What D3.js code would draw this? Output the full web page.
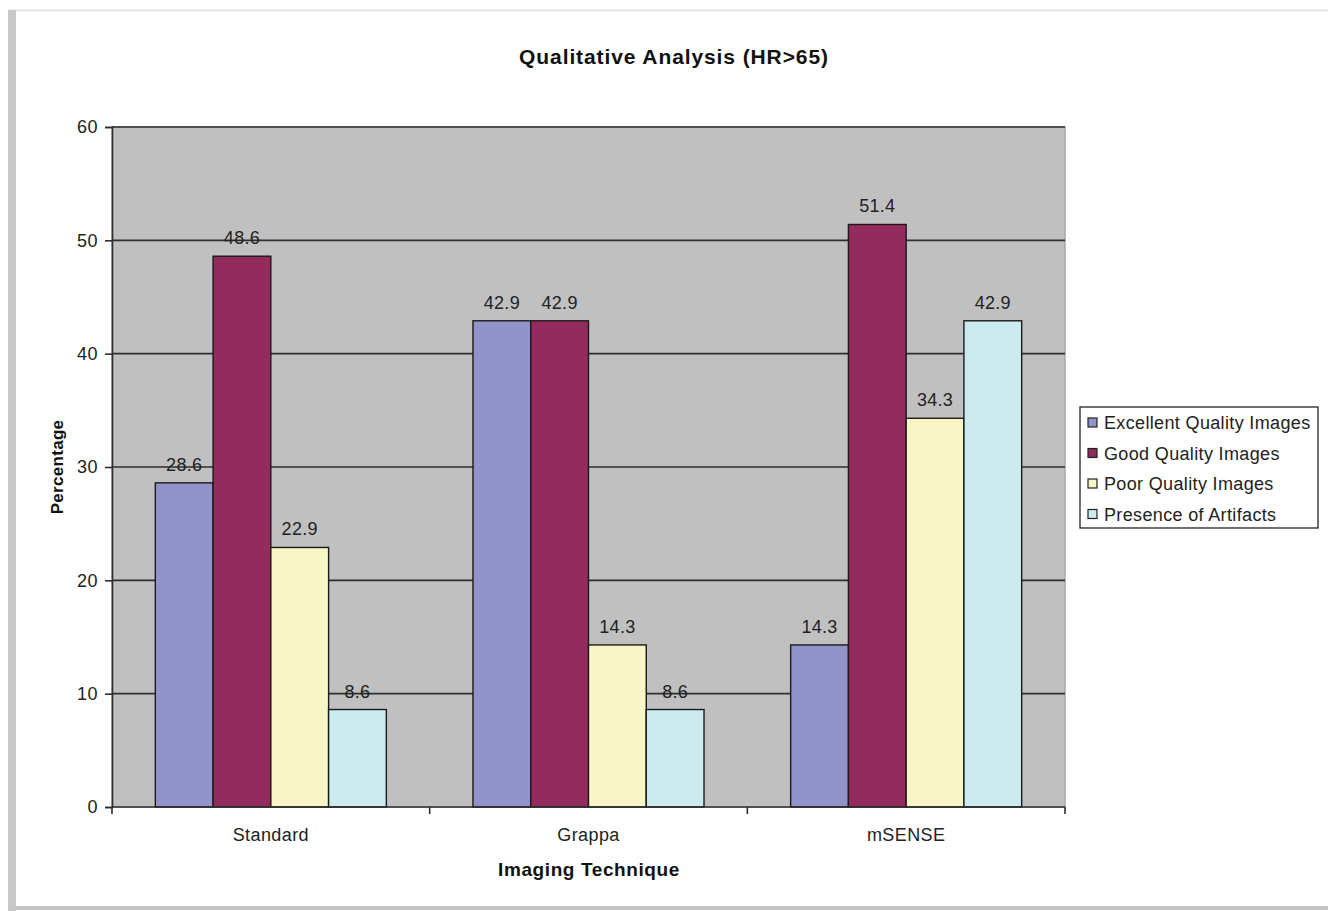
<!DOCTYPE html>
<html>
<head>
<meta charset="utf-8">
<script src="https://cdn.jsdelivr.net/npm/d3@7"></script>
<style>
  html, body { margin: 0; padding: 0; background: #fff; }
  svg { display: block; font-family: Arial, "Liberation Sans", sans-serif; }
</style>
</head>
<body>
<svg id="chart" width="1328" height="911"></svg>
<script>
// Imaging techniques along the x axis
const categories = ["Standard", "Grappa", "mSENSE"];
// One series per image-quality rating (percent)
const seriesNames = ["Excellent Quality Images", "Good Quality Images", "Poor Quality Images", "Presence of Artifacts"];
const excellent = [28.6, 42.9, 14.3];
const good = [48.6, 42.9, 51.4];
const poor = [22.9, 14.3, 34.3];
const artifacts = [8.6, 8.6, 42.9];
const yTicks = [0, 10, 20, 30, 40, 50, 60];
const seriesColors = ["#9393cc", "#932b5d", "#f8f6c6", "#cbebef"];

const seriesValues = [excellent, good, poor, artifacts];
const svg = d3.select("#chart");
const FONT = "Arial, 'Liberation Sans', sans-serif";

// Outer frame
svg.append("rect").attr("x", 0).attr("y", 0).attr("width", 1328).attr("height", 911).attr("fill", "#fff");
svg.append("line").attr("x1", 8).attr("x2", 1328).attr("y1", 10.5).attr("y2", 10.5).attr("stroke", "#e2e2e2").attr("stroke-width", 2);
svg.append("rect").attr("x", 8).attr("y", 10).attr("width", 8).attr("height", 901).attr("fill", "#c9c9c9");
svg.append("line").attr("x1", 8).attr("x2", 1328).attr("y1", 908).attr("y2", 908).attr("stroke", "#c4c4c4").attr("stroke-width", 4);

const plot = { left: 112, top: 127, right: 1065, bottom: 807 };

const x0 = d3.scaleBand().domain(categories).range([plot.left, plot.right]).paddingInner(0).paddingOuter(0);
const innerPad = 1.5 / 5.5 / 2; // gap between groups is 1.5 bar widths
const x1 = d3.scaleBand().domain(d3.range(seriesNames.length))
  .range([x0.bandwidth() * innerPad, x0.bandwidth() * (1 - innerPad)]);
const y = d3.scaleLinear().domain([0, 60]).range([plot.bottom, plot.top]);

// Plot area background
svg.append("rect")
  .attr("x", plot.left).attr("y", plot.top)
  .attr("width", plot.right - plot.left).attr("height", plot.bottom - plot.top)
  .attr("fill", "#c0c0c0").attr("stroke", "#a9a9a9").attr("stroke-width", 1.5);

// Horizontal gridlines
svg.append("g").selectAll("line").data(yTicks.filter(d => d > 0)).join("line")
  .attr("x1", plot.left).attr("x2", plot.right)
  .attr("y1", d => y(d)).attr("y2", d => y(d))
  .attr("stroke", "#2e2e2e").attr("stroke-width", 1.6);

// Bars
const groups = svg.append("g").selectAll("g").data(categories).join("g")
  .attr("transform", c => `translate(${x0(c)},0)`);

groups.selectAll("rect").data((c, ci) => seriesValues.map((vals, si) => ({ si, v: vals[ci] }))).join("rect")
  .attr("x", d => x1(d.si)).attr("width", x1.bandwidth())
  .attr("y", d => y(d.v)).attr("height", d => y(0) - y(d.v))
  .attr("fill", d => seriesColors[d.si])
  .attr("stroke", "#1a1a1a").attr("stroke-width", 1.4);

// Value labels
groups.selectAll("text").data((c, ci) => seriesValues.map((vals, si) => ({ si, v: vals[ci] }))).join("text")
  .attr("x", d => x1(d.si) + x1.bandwidth() / 2)
  .attr("y", d => y(d.v) - 12)
  .attr("text-anchor", "middle")
  .attr("font-size", 18).attr("letter-spacing", 0.3).attr("fill", "#222")
  .text(d => d.v.toFixed(1));

// Y axis
const yAxis = d3.axisLeft(y).tickValues(yTicks).tickSize(7).tickPadding(7);
const gy = svg.append("g").attr("transform", `translate(${plot.left},0)`).call(yAxis);
gy.select(".domain").attr("stroke", "#2e2e2e").attr("stroke-width", 1.6);
gy.selectAll(".tick line").attr("stroke", "#2e2e2e").attr("stroke-width", 1.6);
gy.selectAll(".tick text").attr("font-size", 18).attr("letter-spacing", 0.5).attr("fill", "#222").attr("font-family", FONT);

// X axis with ticks on group boundaries
const gx = svg.append("g").attr("transform", `translate(0,${plot.bottom})`);
gx.append("line").attr("x1", plot.left).attr("x2", plot.right).attr("y1", 0).attr("y2", 0)
  .attr("stroke", "#2e2e2e").attr("stroke-width", 1.6);
const boundaries = categories.map(c => x0(c)).concat([plot.right]);
gx.selectAll(".bt").data(boundaries).join("line").attr("class", "bt")
  .attr("x1", d => d).attr("x2", d => d).attr("y1", 0).attr("y2", 7)
  .attr("stroke", "#2e2e2e").attr("stroke-width", 1.6);
gx.selectAll(".cl").data(categories).join("text").attr("class", "cl")
  .attr("x", c => x0(c) + x0.bandwidth() / 2).attr("y", 34)
  .attr("text-anchor", "middle").attr("font-size", 18).attr("letter-spacing", 0.4).attr("fill", "#222")
  .text(c => c);

// Titles
svg.append("text").attr("x", 674).attr("y", 64).attr("text-anchor", "middle")
  .attr("font-size", 21).attr("letter-spacing", 0.9).attr("font-weight", "bold").attr("fill", "#111")
  .text("Qualitative Analysis (HR>65)");
svg.append("text").attr("x", 589).attr("y", 876).attr("text-anchor", "middle")
  .attr("font-size", 19).attr("letter-spacing", 0.6).attr("font-weight", "bold").attr("fill", "#111")
  .text("Imaging Technique");
svg.append("text").attr("transform", "translate(63,467) rotate(-90)").attr("text-anchor", "middle")
  .attr("font-size", 17).attr("letter-spacing", 0.3).attr("font-weight", "bold").attr("fill", "#111")
  .text("Percentage");

// Legend
const legend = svg.append("g").attr("transform", "translate(1080,407)");
legend.append("rect").attr("x", 0).attr("y", 0).attr("width", 238).attr("height", 121)
  .attr("fill", "#fff").attr("stroke", "#333").attr("stroke-width", 1.4);
const items = legend.selectAll("g").data(seriesNames).join("g")
  .attr("transform", (d, i) => `translate(0,${16 + i * 30.5})`);
items.append("rect").attr("x", 8).attr("y", -5).attr("width", 9).attr("height", 9)
  .attr("fill", (d, i) => seriesColors[i]).attr("stroke", "#222").attr("stroke-width", 1.2);
items.append("text").attr("x", 24).attr("y", 6).attr("font-size", 18).attr("letter-spacing", 0.35).attr("fill", "#222")
  .text(d => d);
</script>
</body>
</html>
